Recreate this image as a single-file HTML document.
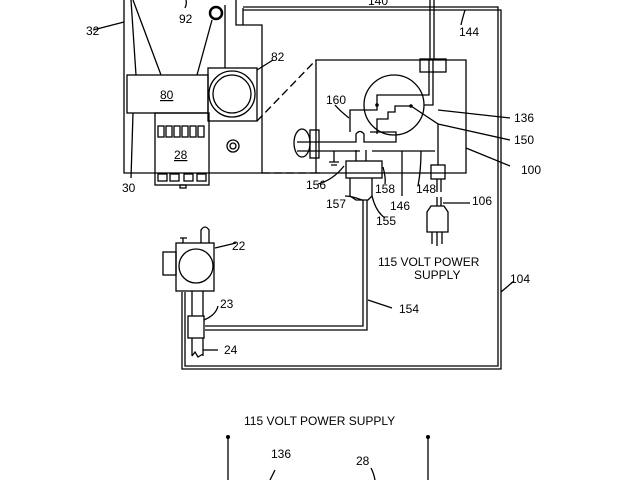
<!DOCTYPE html>
<html><head><meta charset="utf-8"><style>
html,body{margin:0;padding:0;background:#fff;}
svg{display:block}
text{font-family:"Liberation Sans",sans-serif;font-size:12px;fill:#000}
</style></head><body>
<svg width="640" height="480" viewBox="0 0 640 480" xmlns="http://www.w3.org/2000/svg">
<g fill="none" stroke="#000" stroke-width="1.3">
<path d="M124 0 V173 H320"/>
<path d="M131 0 L136 75"/>
<path d="M133 0 L161 75"/>
<path d="M212 20 L197 75"/>
<path d="M225 5 V68"/>
<path d="M236 0 V25 H262 V173"/>
<path d="M243 8 V25"/>
<circle cx="216" cy="13" r="6" stroke-width="2.5"/>
<rect x="127" y="75" width="81" height="38"/>
<rect x="155" y="113" width="54" height="72"/>
<rect x="158" y="126" width="6" height="11"/><rect x="166" y="126" width="6" height="11"/><rect x="174" y="126" width="6" height="11"/><rect x="182" y="126" width="6" height="11"/><rect x="190" y="126" width="6" height="11"/><rect x="198" y="126" width="6" height="11"/>
<rect x="158" y="174" width="9" height="7"/><rect x="170" y="174" width="9" height="7"/><rect x="184" y="174" width="9" height="7"/><rect x="197" y="174" width="9" height="7"/>
<rect x="180" y="185" width="6" height="3"/>
<rect x="208" y="68" width="49" height="53"/>
<circle cx="232" cy="94" r="23"/><circle cx="232" cy="94" r="19"/>
<circle cx="233" cy="146" r="6"/><circle cx="233" cy="146" r="3"/>
<path d="M316 173 V60 H466 V173 H316" />
<path d="M257 121 L316 60" stroke-dasharray="8 4"/>
<path d="M262 173 H316" stroke-dasharray="8 4"/>
<rect x="420" y="59" width="26" height="13"/>
<circle cx="394" cy="105" r="30"/>
<path d="M377 134 V119 H388 V112 H395 V106 H411"/>
<path d="M350 132 V110 H377 V95 H429 V60"/>
<path d="M433 60 V105 H424"/>
<path d="M411 106 L438 124 V165"/>
<path d="M297 142 H356 V134 Q360 129 364 134 V142 H396 V132 H370 M356 142"/>
<path d="M297 151 H360 M372 151 H435"/>
<path d="M334 151 V162 M329 162 H339 M331 165 H337"/>
<rect x="310" y="130" width="9" height="28"/>
<ellipse cx="302" cy="143" rx="8" ry="14"/>
<rect x="346" y="161" width="36" height="17"/>
<path d="M350 178 V196 L356 200 H368 L372 196 V178"/>
<path d="M356 161 V150 M366 161 V150"/>
<path d="M344 166 Q333 180 318 184"/>
<path d="M383 167 Q386 178 385 184"/>
<path d="M402 151 V196"/><path d="M421 151 Q421 170 418 186"/>
<rect x="431" y="165" width="14" height="14"/>
<path d="M437 179 V192 M441 179 V192 M437 197 V206 M441 197 V206"/>
<path d="M427 212 L431 206 H444 L448 212 V232 H427 Z"/>
<path d="M432 232 V244 M437 232 V246 M442 232 V244"/>
<path d="M443 203 H470"/>
<path d="M363 200 V326 H205"/><path d="M367 200 V330 H205"/>
<path d="M243 7 H498 V366 H185 V292"/>
<path d="M243 10 H501 V369 H182 V292"/>
<path d="M430 0 V60 M434 0 V60"/>
<rect x="176" y="243" width="38" height="48"/>
<circle cx="196" cy="266" r="17"/>
<rect x="163" y="252" width="13" height="23"/>
<path d="M201 243 V230 Q205 224 209 230 V243"/>
<path d="M183 243 V238 M180 238 H187"/>
<path d="M192 291 V316 M203 291 V316"/>
<rect x="188" y="316" width="16" height="22"/>
<path d="M192 338 V356 M203 338 V356 M192 356 L195 352 L198 357 L203 354"/>
<path d="M215 248 L236 243"/>
<path d="M204 320 Q216 315 218 306"/>
<path d="M203 350 L218 350"/>
<path d="M368 300 L392 308"/>
<path d="M501 292 L514 281"/>
<path d="M466 148 L510 166"/>
<path d="M438 110 L510 118"/>
<path d="M438 124 L510 140"/>
<path d="M93 30 L124 22"/>
<path d="M133 113 L131 178"/>
<path d="M257 70 L273 60"/>
<path d="M335 105 Q339 110 349 118"/>
<path d="M372 196 Q376 212 385 218"/>
<path d="M362 200 Q352 196 345 196"/>
<path d="M186 0 Q187 4 185 8"/>
<path d="M465 10 Q462 20 461 25"/>
<path d="M228 437 V480 M428 437 V480"/>
<path d="M275 470 Q272 476 270 480 M371 468 Q374 474 375 480"/>
</g>
<circle cx="228" cy="437" r="2" fill="#000"/><circle cx="428" cy="437" r="2" fill="#000"/>
<circle cx="377" cy="105" r="1.8" fill="#000"/><circle cx="411" cy="106" r="1.8" fill="#000"/>
<text x="86" y="35">32</text>
<text x="179" y="23">92</text>
<text x="271" y="61">82</text>
<text x="160" y="99" text-decoration="underline">80</text>
<text x="174" y="159" text-decoration="underline">28</text>
<text x="122" y="192">30</text>
<text x="326" y="104">160</text>
<text x="514" y="122">136</text>
<text x="514" y="144">150</text>
<text x="521" y="174">100</text>
<text x="306" y="189">156</text>
<text x="375" y="193">158</text>
<text x="390" y="210">146</text>
<text x="416" y="193">148</text>
<text x="326" y="208">157</text>
<text x="376" y="225">155</text>
<text x="472" y="205">106</text>
<text x="378" y="266">115 VOLT POWER</text>
<text x="414" y="279">SUPPLY</text>
<text x="510" y="283">104</text>
<text x="232" y="250">22</text>
<text x="220" y="308">23</text>
<text x="399" y="313">154</text>
<text x="224" y="354">24</text>
<text x="368" y="5">140</text>
<text x="459" y="36">144</text>
<text x="244" y="425">115 VOLT POWER SUPPLY</text>
<text x="271" y="458">136</text>
<text x="356" y="465">28</text>
</svg>
</body></html>
